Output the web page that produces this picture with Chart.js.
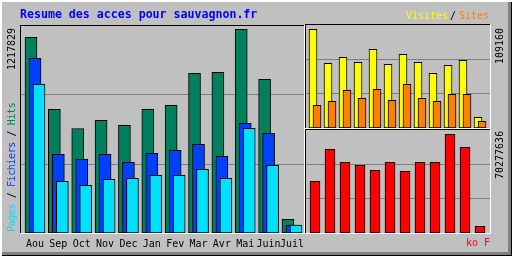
<!DOCTYPE html>
<html>
<head>
<meta charset="utf-8">
<script src="https://cdn.jsdelivr.net/npm/chart.js@4"></script>
<style>
  body { margin: 0; background: #fff; }
  #box {
    position: relative; width: 512px; height: 256px; overflow: hidden;
    background: #c0c0c0;
    box-shadow: inset 2px 2px 0 #fff, inset -1px -1px 0 #000, inset -4px -4px 0 #808080;
    font-family: 'DejaVu Sans Mono', monospace;
  }
  canvas { position: absolute; left: 0; top: 0; }
  .t { position: absolute; white-space: pre; font-size: 10px; line-height: 10px; }
  .up { transform-origin: 0 0; transform: rotate(-90deg); }
</style>
</head>
<body>
<div id="box">
  <canvas id="main" width="512" height="256"></canvas>
  <canvas id="visitsChart" width="512" height="256"></canvas>
  <canvas id="kbChart" width="512" height="256"></canvas>

  <div class="t" style="left:20px;top:8px;font-size:11.6px;line-height:12px;font-weight:bold;color:#0000ff">Resume des acces pour sauvagnon.fr</div>
  <div class="t" style="left:406px;top:11px;color:#ffff00">Visites</div>
  <div class="t" style="left:450px;top:11px;color:#000">/</div>
  <div class="t" style="left:459px;top:11px;color:#ff8000">Sites</div>
  <div class="t up" style="left:7px;top:232px;letter-spacing:-0.4px"><span style="color:#00e0ff">Pages</span><span style="color:#000"> / </span><span style="color:#0040ff">Fichiers</span><span style="color:#000"> / </span><span style="color:#00805c">Hits</span></div>
  <div class="t up" id="maxHits" style="left:7px;top:70px;color:#000"></div>
  <div class="t up" id="maxVisits" style="left:495px;top:64px;color:#000"></div>
  <div class="t up" id="maxKb" style="left:495px;top:179px;color:#000"></div>
  <div class="t" style="left:466px;top:238px;color:#ff0000">ko F</div>
</div>

<script>
const months = ['Aou', 'Sep', 'Oct', 'Nov', 'Dec', 'Jan', 'Fev', 'Mar', 'Avr', 'Mai', 'Juin', 'Juil'];

const hits = [1170000, 739500, 624800, 673800, 643900, 739500, 763400, 954800, 960700, 1217829, 918900, 81900];
const files = [1044400, 470500, 442400, 470500, 422700, 476500, 494400, 530300, 458500, 655800, 596000, 47800];
const pages = [889000, 309100, 285200, 321000, 327000, 345000, 345000, 380800, 327000, 625900, 404700, 47800];

const visits = [109160, 71560, 78190, 72660, 87040, 70450, 81510, 72660, 60500, 69350, 74880, 11830];
const sites = [25110, 29530, 41700, 32850, 42800, 30640, 48330, 32850, 29530, 37270, 37270, 7410];

const kbytes = [36812000, 59597000, 50341000, 48205000, 44644000, 50341000, 43932000, 50341000, 50341000, 70277636, 61021000, 4771000];

const yMaxMain = 1237550;
const yMaxVisits = 113920;
const yMaxKb = 73339000;

const colors = {
    hits: '#00805c',
    files: '#0040ff',
    pages: '#00e0ff',
    visits: '#ffff00',
    sites: '#ff8000',
    kbytes: '#ff0000',
    grid: '#808080'
};

document.getElementById('maxHits').innerText = String(Math.max(...hits));
document.getElementById('maxVisits').innerText = String(Math.max(...visits));
document.getElementById('maxKb').innerText = String(Math.max(...kbytes));

function points(values) {
    return values.map((v, i) => ({ x: i, y: v }));
}

// linear x axis placing month i at firstCenter + i*step inside [left,right]
function monthAxis(left, right, firstCenter, step, show) {
    const min = -(firstCenter - left) / step;
    return {
        type: 'linear',
        display: show,
        offset: false,
        min: min,
        max: min + (right - left) / step,
        grid: { display: false, drawTicks: false },
        border: { display: false },
        afterBuildTicks: (scale) => { scale.ticks = months.map((m, i) => ({ value: i })); },
        afterFit: (scale) => { scale.height = show ? 20 : 0; },
        ticks: {
            autoSkip: false,
            maxRotation: 0,
            padding: 5,
            color: '#000',
            font: { family: 'DejaVu Sans Mono', size: 10 },
            callback: (v) => months[v]
        }
    };
}

function gridAxis(max) {
    return {
        min: 0,
        max: max,
        border: { display: false },
        grid: { color: colors.grid, lineWidth: 1, drawTicks: false },
        ticks: { display: false },
        afterBuildTicks: (scale) => { scale.ticks = [{ value: max / 3 }, { value: max * 2 / 3 }]; },
        afterFit: (scale) => { scale.width = 0; }
    };
}

// lower order is painted last, so it ends up in front
function barSet(values, color, axis, width, order) {
    return {
        data: points(values),
        xAxisID: axis,
        grouped: false,
        order: order,
        backgroundColor: color,
        borderColor: '#000',
        borderWidth: 1,
        borderSkipped: false,
        barThickness: width
    };
}

// inset 3d frame around a panel: dark on top/left, light on bottom/right
const framePlugin = {
    id: 'frame',
    afterDraw(chart, args, opts) {
        const ctx = chart.ctx;
        const [x1, y1, x2, y2] = opts.rect;
        ctx.save();
        ctx.fillStyle = '#000';
        ctx.fillRect(x1, y1, x2 - x1 + 1, 1);
        ctx.fillRect(x1, y1, 1, y2 - y1 + 1);
        ctx.fillStyle = '#fff';
        ctx.fillRect(x1, y2, x2 - x1 + 1, 1);
        ctx.fillRect(x2, y1, 1, y2 - y1 + 1);
        ctx.restore();
    }
};

function makeChart(id, datasets, xScales, yMax, pad, rect) {
    const scales = Object.assign({ y: gridAxis(yMax) }, xScales);
    return new Chart(document.getElementById(id), {
        type: 'bar',
        data: { datasets: datasets },
        options: {
            responsive: false,
            animation: false,
            layout: { padding: pad },
            plugins: {
                legend: { display: false },
                tooltip: { enabled: false },
                frame: { rect: rect }
            },
            scales: scales
        },
        plugins: [framePlugin]
    });
}

// hits / files / pages
makeChart('main',
    [
        barSet(hits, colors.hits, 'xh', 12, 3),
        barSet(files, colors.files, 'xf', 12, 2),
        barSet(pages, colors.pages, 'xp', 12, 1)
    ],
    {
        xh: monthAxis(21, 304, 31, 23.36, false),
        xf: monthAxis(21, 304, 35, 23.36, true),
        xp: monthAxis(21, 304, 39, 23.36, false)
    },
    yMaxMain,
    { left: 21, top: 26, right: 512 - 304, bottom: 256 - 233 - 20 },
    [20, 25, 304, 233]
);

// visits / sites
makeChart('visitsChart',
    [
        barSet(visits, colors.visits, 'xv', 8, 2),
        barSet(sites, colors.sites, 'xs', 8, 1)
    ],
    {
        xv: monthAxis(306, 490, 313, 15, false),
        xs: monthAxis(306, 490, 317, 15, false)
    },
    yMaxVisits,
    { left: 306, top: 25, right: 512 - 490, bottom: 256 - 128 },
    [305, 24, 490, 128]
);

// kbytes
makeChart('kbChart',
    [
        barSet(kbytes, colors.kbytes, 'xk', 10, 1)
    ],
    {
        xk: monthAxis(306, 490, 315, 15, false)
    },
    yMaxKb,
    { left: 306, top: 130, right: 512 - 490, bottom: 256 - 233 },
    [305, 129, 490, 233]
);
</script>
</body>
</html>
